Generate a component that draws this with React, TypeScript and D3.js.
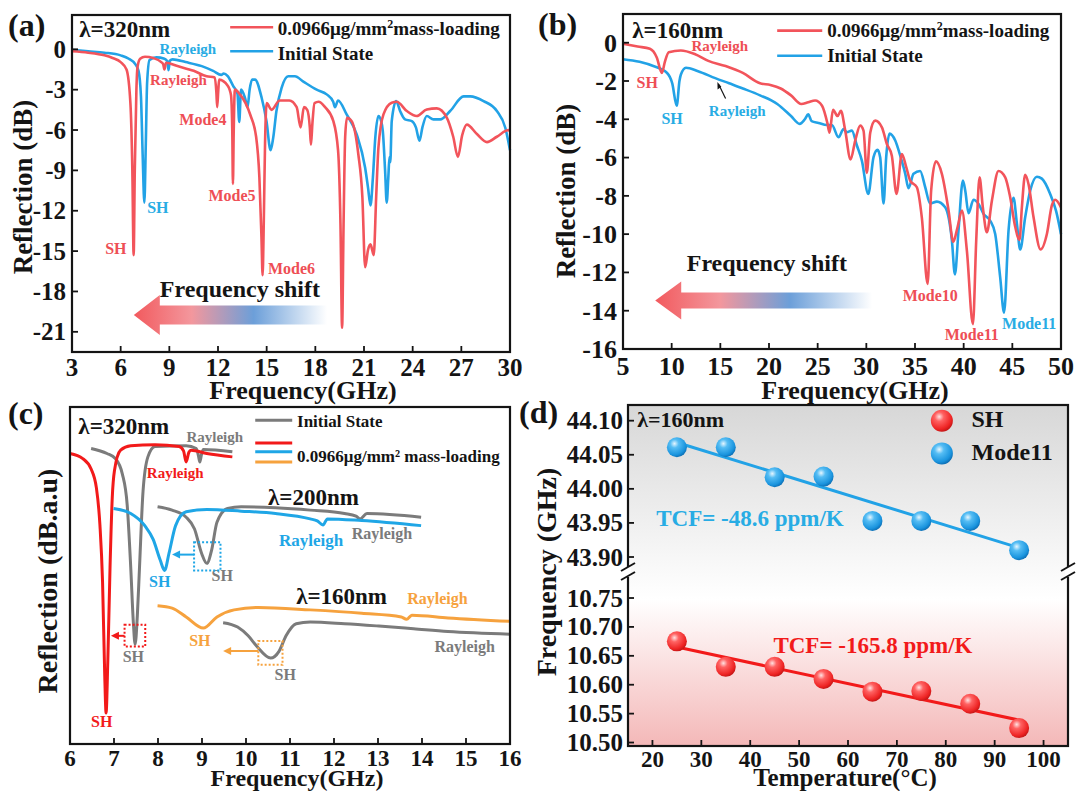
import React from 'react';
import * as d3 from 'd3';

type Pt = [number, number];

const FONT = '"Liberation Serif", "Times New Roman", serif';
const INK = '#141414';
const RED = '#f2545b';
const BLUE = '#22a2e6';
const RED_TXT = '#ee4e55';
const BLUE_TXT = '#28ace4';
const C_RED = '#f21a1a';
const C_BLUE = '#1fa6e6';
const C_ORANGE = '#f6a23e';
const C_GRAY = '#7b7b7b';

// ---- panel (a): lambda = 320nm, reflection (dB)
const aXTicks = [3, 6, 9, 12, 15, 18, 21, 24, 27, 30];
const aYTicks = [0, -3, -6, -9, -12, -15, -18, -21];
const aLoaded: Pt[] = [
  [3, -0.15], [4, -0.25], [5, -0.45], [5.5, -0.65], [6.0, -0.95], [6.36, -1.5], [6.6, -4], [6.72, -9],
  [6.8, -15.3], [6.87, -9], [6.97, -3], [7.04, -1.3], [7.2, -0.7], [7.5, -0.55], [8.0, -0.65], [8.5, -0.95],
  [8.62, -1.1], [8.7, -1.5], [8.8, -1.0], [9.5, -1.25], [10.5, -1.6], [11.3, -2.0], [11.8, -2.1], [11.9, -3.2],
  [11.95, -4.3], [12.02, -3.0], [12.07, -2.25], [12.6, -2.7], [12.8, -3.4], [12.88, -6], [12.92, -10.0],
  [12.97, -6], [13.04, -3.0], [13.35, -3.35], [13.7, -4.0], [14.0, -4.9], [14.35, -6.5], [14.55, -9.5],
  [14.68, -14], [14.75, -16.8], [14.82, -13], [14.9, -7], [15.0, -4.0], [15.3, -4.5], [15.8, -3.8],
  [16.4, -3.8], [16.85, -4.3], [17.09, -5.8], [17.3, -4.3], [17.5, -4.5], [17.66, -5.8], [17.73, -7.1],
  [17.82, -5.5], [17.95, -4.0], [18.2, -3.9], [18.6, -4.3], [19.1, -5.3], [19.4, -7.5], [19.55, -13],
  [19.65, -20.7], [19.74, -13], [19.84, -6.5], [19.95, -5.1], [20.24, -5.35], [20.65, -7.8], [20.9, -11],
  [21.07, -16.2], [21.25, -14.9], [21.4, -14.5], [21.6, -15.3], [21.75, -11], [21.89, -7.3], [22.2, -4.84],
  [22.71, -3.97], [23.02, -3.9], [23.64, -4.59], [24.25, -4.96], [24.87, -4.47], [25.49, -4.39],
  [26.11, -5.09], [26.5, -6.5], [26.79, -8.0], [27.05, -6.4], [27.34, -5.6], [27.96, -6.3], [28.58, -6.9],
  [29.19, -6.5], [29.91, -6.0], [30, -6.1],
];
const aInitial: Pt[] = [
  [3, -0.05], [4, -0.15], [5, -0.25], [6, -0.45], [6.5, -0.7], [6.9, -1.1], [7.1, -1.6], [7.25, -3.5],
  [7.36, -8], [7.46, -11.4], [7.55, -7], [7.63, -2.5], [7.78, -0.8], [8.2, -0.6], [8.7, -0.7], [8.88, -0.9],
  [8.95, -1.55], [9.03, -0.85], [9.2, -0.75], [10, -0.95], [11.0, -1.25], [11.7, -1.6], [12.2, -1.9],
  [12.35, -1.8], [12.6, -2.0], [12.94, -2.73], [13.2, -3.3], [13.31, -5.4], [13.42, -3.0], [13.66, -3.6],
  [13.82, -4.3], [13.95, -3.0], [14.1, -2.25], [14.28, -2.25], [14.69, -3.6], [14.99, -5.34], [15.24, -7.5],
  [15.4, -6.6], [15.6, -4.6], [15.92, -2.86], [16.33, -2.0], [16.74, -2.0], [17.26, -2.4], [18.08, -3.0],
  [18.7, -3.35], [19.1, -3.9], [19.21, -4.3], [19.4, -3.8], [19.93, -4.84], [20.55, -6.33], [21.07, -8.81],
  [21.25, -10.3], [21.4, -11.6], [21.55, -9.5], [21.7, -6.5], [21.89, -4.96], [22.05, -5.3], [22.16, -6.08],
  [22.3, -9], [22.4, -11.4], [22.5, -9.5], [22.57, -8.0], [22.62, -8.4], [22.71, -5.34], [22.98, -3.85],
  [23.23, -4.6], [23.53, -5.21], [23.95, -5.34], [24.2, -5.8], [24.42, -6.8], [24.6, -5.8], [24.87, -4.96],
  [25.28, -5.21], [25.7, -5.21], [26.31, -4.59], [27.14, -3.5], [27.55, -3.5], [28.37, -3.85],
  [29.19, -4.59], [29.71, -5.83], [30, -7.5],
];

// ---- panel (b): lambda = 160nm, reflection (dB)
const bXTicks = [5, 10, 15, 20, 25, 30, 35, 40, 45, 50];
const bYTicks = [0, -2, -4, -6, -8, -10, -12, -14, -16];
const bLoaded: Pt[] = [
  [5, -0.05], [6.5, -0.2], [7.76, -0.32], [8.47, -0.77], [9.0, -1.58], [9.3, -1.0], [9.7, -0.5],
  [10.94, -0.41], [12.36, -0.59], [13.77, -0.95], [15.54, -1.22], [17.31, -1.58], [19.08, -2.12],
  [20.14, -2.21], [21.2, -2.39], [22.26, -2.75], [23.32, -3.2], [24.03, -3.11], [24.74, -3.02],
  [25.45, -3.29], [26.0, -4.2], [26.22, -4.7], [26.58, -3.5], [27.04, -3.83], [27.39, -3.56], [27.83, -4.59],
  [28.38, -6.1], [28.86, -5.11], [29.37, -4.33], [29.71, -4.59], [30.05, -6.8], [30.4, -4.7], [30.91, -4.07],
  [31.6, -4.42], [32.11, -5.29], [32.62, -5.9], [33.1, -7.9], [33.65, -5.81], [34.1, -6.5], [34.5, -7.2],
  [35.19, -7.55], [35.7, -9.12], [36.3, -12.6], [36.66, -7.72], [37.15, -6.2], [37.76, -6.85],
  [38.45, -8.77], [38.93, -10.4], [39.37, -9.64], [39.82, -8.77], [40.33, -10.86], [40.95, -14.7],
  [41.29, -10.33], [41.63, -7.03], [41.97, -8.6], [42.38, -9.9], [42.9, -8.25], [43.58, -6.7],
  [44.27, -7.03], [44.78, -8.07], [45.29, -9.6], [45.74, -10.3], [45.98, -8.6], [46.32, -6.9],
  [46.66, -7.38], [47.18, -9.12], [47.9, -10.8], [48.55, -9.99], [49.06, -8.5], [49.4, -8.2], [50, -8.6],
];
const bInitial: Pt[] = [
  [5, -0.86], [6.7, -1.0], [8.11, -1.22], [9.53, -1.58], [10.06, -2.12], [10.52, -3.29], [10.8, -2.0],
  [10.94, -1.67], [11.47, -1.31], [12.71, -1.49], [14.48, -1.85], [15.9, -2.12], [17.31, -2.39],
  [19.08, -2.75], [20.85, -3.2], [22.26, -3.83], [23.15, -4.24], [23.68, -4.0], [24.03, -3.74],
  [24.38, -4.1], [25.09, -4.19], [25.94, -4.3], [26.46, -4.3], [27.14, -4.94], [27.66, -4.51], [28.0, -4.68],
  [28.51, -4.59], [29.03, -5.37], [29.54, -6.16], [30.2, -7.9], [30.74, -5.98], [31.15, -5.6],
  [31.42, -5.98], [31.77, -8.4], [32.04, -5.98], [32.38, -4.75], [32.97, -5.11], [33.48, -5.9], [34.0, -6.85],
  [34.33, -7.6], [34.85, -6.85], [35.53, -6.7], [36.05, -7.55], [36.56, -8.4], [37.25, -8.3], [38.1, -8.6],
  [38.79, -10.33], [39.1, -12.1], [39.47, -9.81], [39.92, -7.2], [40.16, -7.72], [40.5, -8.9], [41.01, -8.2],
  [41.53, -8.42], [42.04, -8.94], [42.73, -9.3], [43.24, -9.99], [43.75, -12.25], [44.15, -14.1],
  [44.61, -9.81], [45.12, -8.1], [45.47, -9.46], [45.81, -10.8], [46.32, -9.12], [46.84, -7.72],
  [47.52, -7.0], [48.03, -7.1], [48.89, -7.9], [49.5, -8.8], [50, -10.0],
];

// ---- panel (c): SH resonances, stacked (arbitrary units)
const cXTicks = [6, 7, 8, 9, 10, 11, 12, 13, 14, 15, 16];
const c320Loaded: Pt[] = [
  [6.0, 8.62], [6.29, 8.47], [6.48, 8.16], [6.6, 7.6], [6.68, 6.5], [6.74, 4.8], [6.79, 2.0], [6.82, 0.92],
  [6.86, 2.5], [6.91, 5.25], [6.96, 7.3], [7.01, 8.11], [7.15, 8.72], [7.38, 8.85], [7.93, 8.88],
  [8.48, 8.83], [8.58, 8.7], [8.64, 8.37], [8.7, 8.65], [8.75, 8.72], [9.11, 8.62], [9.69, 8.52],
];
const c320Initial: Pt[] = [
  [6.48, 8.77], [6.84, 8.62], [7.03, 8.47], [7.19, 8.01], [7.3, 7.09], [7.38, 5.25], [7.44, 3.6],
  [7.48, 2.96], [7.53, 3.8], [7.58, 5.25], [7.66, 7.5], [7.77, 8.52], [7.93, 8.83], [8.64, 8.85],
  [8.87, 8.77], [8.92, 8.55], [8.95, 8.37], [8.99, 8.6], [9.03, 8.74], [9.69, 8.67],
];
const c200Loaded: Pt[] = [
  [6.99, 6.99], [7.38, 6.84], [7.7, 6.48], [7.89, 6.07], [8.05, 5.46], [8.15, 5.15], [8.25, 5.66],
  [8.4, 6.48], [8.64, 6.89], [9.11, 6.96], [9.89, 6.91], [10.67, 6.84], [11.46, 6.68], [11.62, 6.62],
  [11.75, 6.5], [11.85, 6.68], [12.63, 6.63], [13.98, 6.48],
];
const c200Initial: Pt[] = [
  [7.99, 7.04], [8.32, 6.94], [8.64, 6.73], [8.83, 6.38], [8.99, 5.66], [9.11, 5.36], [9.22, 5.76],
  [9.34, 6.58], [9.58, 6.99], [9.89, 7.04], [10.67, 7.01], [11.46, 6.94], [12.24, 6.84], [12.5, 6.76],
  [12.59, 6.68], [12.75, 6.84], [13.98, 6.73],
];
const c160Loaded: Pt[] = [
  [7.99, 4.1], [8.32, 4.03], [8.64, 3.77], [9.03, 3.44], [9.34, 3.77], [9.73, 3.98], [10.28, 4.05],
  [11.46, 3.98], [12.63, 3.88], [13.53, 3.77], [13.65, 3.7], [13.77, 3.82], [14.59, 3.74], [16.0, 3.64],
];
const c160Initial: Pt[] = [
  [9.48, 3.6], [9.81, 3.47], [10.05, 3.21], [10.24, 2.91], [10.56, 2.55], [10.75, 2.75], [10.91, 3.21],
  [11.14, 3.57], [11.46, 3.62], [12.24, 3.57], [13.02, 3.5], [13.81, 3.42], [14.59, 3.34], [16.0, 3.26],
];

// ---- panel (d): temperature drift
const dXTicks = [20, 30, 40, 50, 60, 70, 80, 90, 100];
const dUpperTicks = [43.9, 43.95, 44.0, 44.05, 44.1];
const dLowerTicks = [10.5, 10.55, 10.6, 10.65, 10.7, 10.75];
const dTemps = [25, 35, 45, 55, 65, 75, 85, 95];
const dMode11 = [44.061, 44.061, 44.017, 44.018, 43.953, 43.953, 43.953, 43.91];
const dSH = [10.675, 10.631, 10.631, 10.61, 10.588, 10.589, 10.567, 10.525];

// scales (pixel ranges from the figure layout)
const axA = d3.scaleLinear().domain([3, 30]).range([72, 510]);
const ayA = d3.scaleLinear().domain([-22.5, 2.55]).range([352, 15]);
const axB = d3.scaleLinear().domain([5, 50]).range([623, 1061]);
const ayB = d3.scaleLinear().domain([-16, 1.5]).range([349, 14]);
const axC = d3.scaleLinear().domain([6, 16]).range([70, 510]);
const ayC = d3.scaleLinear().domain([0, 10]).range([744, 407]);
const axD = d3.scaleLinear().domain([15, 105]).range([628, 1068]);
const ayDU = d3.scaleLinear().domain([43.878, 44.123]).range([572, 405]);
const ayDL = d3.scaleLinear().domain([10.494, 10.795]).range([746, 572]);

const curve = (x: d3.ScaleLinear<number, number>, y: d3.ScaleLinear<number, number>) =>
  d3.line<Pt>().x(d => x(d[0])).y(d => y(d[1])).curve(d3.curveMonotoneX);

function fit(xs: number[], ys: number[]) {
  const mx = d3.mean(xs)!, my = d3.mean(ys)!;
  const sxy = d3.sum(xs, (x, i) => (x - mx) * (ys[i] - my));
  const sxx = d3.sum(xs, x => (x - mx) * (x - mx));
  const k = sxy / sxx;
  return (x: number) => my + k * (x - mx);
}

const Txt = (p: any) => (
  <text fontFamily={FONT} fontWeight="bold" fill={p.fill || INK} fontSize={p.size} x={p.x} y={p.y}
    textAnchor={p.anchor || 'start'} transform={p.transform}>{p.children}</text>
);

function Frame({ x, y, xTicks, yTicks, xFmt, yFmt, size, xOff }: any) {
  const [x0, x1] = x.range();
  const [yb, yt] = y.range();
  return (
    <g>
      <rect x={x0} y={yt} width={x1 - x0} height={yb - yt} fill="none" stroke={INK} strokeWidth={2.2} />
      {xTicks.map((t: number) => (
        <g key={'x' + t}>
          <line x1={x(t)} x2={x(t)} y1={yb} y2={yb - 6} stroke={INK} strokeWidth={1.8} />
          <Txt x={x(t)} y={yb + xOff} size={size} anchor="middle">{xFmt(t)}</Txt>
        </g>
      ))}
      {(yTicks || []).map((t: number) => (
        <g key={'y' + t}>
          <line x1={x0} x2={x0 + 6} y1={y(t)} y2={y(t)} stroke={INK} strokeWidth={1.8} />
          <Txt x={x0 - 6} y={y(t) + size * 0.34} size={size} anchor="end">{yFmt(t)}</Txt>
        </g>
      ))}
    </g>
  );
}

function ShiftArrow({ x0, x1, yc, body, head, headLen }: any) {
  const pts = [
    [x0, yc], [x0 + headLen, yc - head], [x0 + headLen, yc - body], [x1, yc - body],
    [x1, yc + body], [x0 + headLen, yc + body], [x0 + headLen, yc + head],
  ];
  return <polygon points={pts.map(p => p.join(',')).join(' ')} fill="url(#shiftGrad)" />;
}

function SmallArrow({ x1, x2, y, color }: any) {
  // horizontal arrow pointing left, head at x2
  return (
    <g>
      <line x1={x1} x2={x2 + 6} y1={y} y2={y} stroke={color} strokeWidth={2} />
      <polygon points={`${x2},${y} ${x2 + 8},${y - 4} ${x2 + 8},${y + 4}`} fill={color} />
    </g>
  );
}

function Sphere({ cx, cy, r, id }: any) {
  return <circle cx={cx} cy={cy} r={r} fill={`url(#${id})`} />;
}

export default function App() {
  const lineA = curve(axA, ayA);
  const lineB = curve(axB, ayB);
  const lineC = curve(axC, ayC);
  const fitBlue = fit(dTemps, dMode11);
  const fitRed = fit(dTemps, dSH);
  const fmt2 = d3.format('.2f');
  const dx0 = axD.range()[0], dx1 = axD.range()[1];
  const brk = 572;

  return (
    <svg width={1076} height={791} viewBox="0 0 1076 791"
      style={{ position: 'absolute', left: 0, top: 0, background: '#fff' }}>
      <defs>
        <linearGradient id="shiftGrad" x1="0" x2="1" y1="0" y2="0">
          <stop offset="0" stopColor="#f25a5e" />
          <stop offset="0.3" stopColor="#f3979d" />
          <stop offset="0.62" stopColor="#6c9fd9" />
          <stop offset="1" stopColor="#ffffff" />
        </linearGradient>
        <linearGradient id="dBg" x1="0" x2="0" y1="0" y2="1">
          <stop offset="0" stopColor="#d7d7d7" />
          <stop offset="0.45" stopColor="#f7f7f7" />
          <stop offset="0.57" stopColor="#ffffff" />
          <stop offset="1" stopColor="#f4b8b8" />
        </linearGradient>
        <radialGradient id="sphRed" cx="0.38" cy="0.32" r="0.7">
          <stop offset="0" stopColor="#ffe2e2" />
          <stop offset="0.3" stopColor="#ff6262" />
          <stop offset="0.8" stopColor="#ee2424" />
          <stop offset="1" stopColor="#c41616" />
        </radialGradient>
        <radialGradient id="sphBlue" cx="0.38" cy="0.32" r="0.7">
          <stop offset="0" stopColor="#e6f6ff" />
          <stop offset="0.3" stopColor="#55bdf4" />
          <stop offset="0.8" stopColor="#1a94de" />
          <stop offset="1" stopColor="#0d6fb5" />
        </radialGradient>
      </defs>

      {/* ================= (a) ================= */}
      <path d={lineA(aInitial)!} fill="none" stroke={BLUE} strokeWidth={2.6} />
      <path d={lineA(aLoaded)!} fill="none" stroke={RED} strokeWidth={2.6} />
      <Frame x={axA} y={ayA} xTicks={aXTicks} yTicks={aYTicks} xFmt={String} yFmt={String} size={25} xOff={24} />
      <Txt x={8} y={36} size={32}>(a)</Txt>
      <Txt x={axA(3.45)} y={ayA(0.95)} size={23}>λ=320nm</Txt>
      <line x1={axA(12.75)} x2={axA(15.4)} y1={ayA(1.64)} y2={ayA(1.64)} stroke={RED} strokeWidth={2.6} />
      <line x1={axA(12.75)} x2={axA(15.4)} y1={ayA(-0.15)} y2={ayA(-0.15)} stroke={BLUE} strokeWidth={2.6} />
      <Txt x={axA(15.68)} y={ayA(1.04)} size={19}>0.0966μg/mm<tspan dy={-7} fontSize={12}>2</tspan><tspan dy={7}>mass-loading</tspan></Txt>
      <Txt x={axA(15.68)} y={ayA(-0.82)} size={19}>Initial State</Txt>
      <Txt x={axA(10.14)} y={ayA(-0.37)} size={15} fill={BLUE_TXT} anchor="middle">Rayleigh</Txt>
      <Txt x={axA(9.56)} y={ayA(-2.68)} size={15} fill={RED_TXT} anchor="middle">Rayleigh</Txt>
      <Txt x={axA(11.07)} y={ayA(-5.65)} size={16} fill={RED_TXT} anchor="middle">Mode4</Txt>
      <Txt x={axA(12.86)} y={ayA(-11.3)} size={16} fill={RED_TXT} anchor="middle">Mode5</Txt>
      <Txt x={axA(16.53)} y={ayA(-16.67)} size={16} fill={RED_TXT} anchor="middle">Mode6</Txt>
      <Txt x={axA(5.7)} y={ayA(-15.18)} size={16} fill={RED_TXT} anchor="middle">SH</Txt>
      <Txt x={axA(8.29)} y={ayA(-12.2)} size={16} fill={BLUE_TXT} anchor="middle">SH</Txt>
      <Txt x={axA(13.35)} y={ayA(-18.38)} size={24} anchor="middle">Frequency shift</Txt>
      <ShiftArrow x0={axA(6.81)} x1={axA(18.72)} yc={ayA(-19.75)} body={9.5} head={20} headLen={26} />
      <Txt x={32} y={187} size={27} anchor="middle" transform="rotate(-90 32 187)">Reflection (dB)</Txt>
      <Txt x={303} y={399} size={26} anchor="middle">Frequency(GHz)</Txt>

      {/* ================= (b) ================= */}
      <path d={lineB(bInitial)!} fill="none" stroke={BLUE} strokeWidth={2.6} />
      <path d={lineB(bLoaded)!} fill="none" stroke={RED} strokeWidth={2.6} />
      <Frame x={axB} y={ayB} xTicks={bXTicks} yTicks={bYTicks} xFmt={String} yFmt={String} size={26} xOff={26} />
      <Txt x={538} y={35} size={32}>(b)</Txt>
      <Txt x={axB(5.95)} y={ayB(0.26)} size={23}>λ=160nm</Txt>
      <line x1={axB(20.84)} x2={axB(25.47)} y1={ayB(0.63)} y2={ayB(0.63)} stroke={RED} strokeWidth={2.6} />
      <line x1={axB(20.84)} x2={axB(25.47)} y1={ayB(-0.68)} y2={ayB(-0.68)} stroke={BLUE} strokeWidth={2.6} />
      <Txt x={axB(25.98)} y={ayB(0.31)} size={19}>0.0966μg/mm<tspan dy={-7} fontSize={12}>2</tspan><tspan dy={7}>mass-loading</tspan></Txt>
      <Txt x={axB(25.98)} y={ayB(-0.99)} size={19}>Initial State</Txt>
      <Txt x={axB(14.94)} y={ayB(-0.42)} size={15} fill={RED_TXT} anchor="middle">Rayleigh</Txt>
      <Txt x={axB(7.49)} y={ayB(-2.35)} size={16} fill={RED_TXT} anchor="middle">SH</Txt>
      <Txt x={axB(10.05)} y={ayB(-4.23)} size={16} fill={BLUE_TXT} anchor="middle">SH</Txt>
      <Txt x={axB(16.73)} y={ayB(-3.81)} size={15} fill={BLUE_TXT} anchor="middle">Rayleigh</Txt>
      <line x1={axB(15.54)} y1={ayB(-2.92)} x2={axB(14.85)} y2={ayB(-2.2)} stroke={INK} strokeWidth={1.2} />
      <polygon points={`${axB(14.7)},${ayB(-2.05)} ${axB(14.72)},${ayB(-2.45)} ${axB(15.1)},${ayB(-2.3)}`} fill={INK} />
      <Txt x={axB(19.78)} y={ayB(-11.95)} size={24} anchor="middle">Frequency shift</Txt>
      <ShiftArrow x0={axB(8.31)} x1={axB(30.6)} yc={ayB(-13.47)} body={8} head={19} headLen={26} />
      <Txt x={axB(36.56)} y={ayB(-13.47)} size={16} fill={RED_TXT} anchor="middle">Mode10</Txt>
      <Txt x={axB(40.83)} y={ayB(-15.55)} size={16} fill={RED_TXT} anchor="middle">Mode11</Txt>
      <Txt x={axB(46.73)} y={ayB(-14.98)} size={16} fill={BLUE_TXT} anchor="middle">Mode11</Txt>
      <Txt x={575} y={191} size={27} anchor="middle" transform="rotate(-90 575 191)">Reflection (dB)</Txt>
      <Txt x={855} y={399} size={26} anchor="middle">Frequency(GHz)</Txt>

      {/* ================= (c) ================= */}
      <path d={lineC(c320Initial)!} fill="none" stroke={C_GRAY} strokeWidth={3} />
      <path d={lineC(c320Loaded)!} fill="none" stroke={C_RED} strokeWidth={3} />
      <path d={lineC(c200Initial)!} fill="none" stroke={C_GRAY} strokeWidth={3} />
      <path d={lineC(c200Loaded)!} fill="none" stroke={C_BLUE} strokeWidth={3} />
      <path d={lineC(c160Loaded)!} fill="none" stroke={C_ORANGE} strokeWidth={3} />
      <path d={lineC(c160Initial)!} fill="none" stroke={C_GRAY} strokeWidth={3} />
      <Frame x={axC} y={ayC} xTicks={cXTicks} yTicks={null} xFmt={String} yFmt={String} size={23} xOff={22} />
      <Txt x={8} y={424} size={32}>(c)</Txt>
      <Txt x={axC(6.19)} y={ayC(9.2)} size={23}>λ=320nm</Txt>
      <Txt x={axC(10.5)} y={ayC(7.1)} size={23}>λ=200nm</Txt>
      <Txt x={axC(11.14)} y={ayC(4.16)} size={23}>λ=160nm</Txt>
      <line x1={axC(10.21)} x2={axC(11.05)} y1={ayC(9.61)} y2={ayC(9.61)} stroke={C_GRAY} strokeWidth={3} />
      <Txt x={axC(11.16)} y={ayC(9.41)} size={17}>Initial State</Txt>
      <line x1={axC(10.21)} x2={axC(11.05)} y1={ayC(8.93)} y2={ayC(8.93)} stroke={C_RED} strokeWidth={3} />
      <line x1={axC(10.21)} x2={axC(11.05)} y1={ayC(8.67)} y2={ayC(8.67)} stroke={C_BLUE} strokeWidth={3} />
      <line x1={axC(10.21)} x2={axC(11.05)} y1={ayC(8.37)} y2={ayC(8.37)} stroke={C_ORANGE} strokeWidth={3} />
      <Txt x={axC(11.16)} y={ayC(8.36)} size={17}>0.0966μg/mm² mass-loading</Txt>
      <Txt x={axC(9.29)} y={ayC(8.96)} size={15} fill={C_GRAY} anchor="middle">Rayleigh</Txt>
      <Txt x={axC(8.39)} y={ayC(7.9)} size={15} fill={C_RED} anchor="middle">Rayleigh</Txt>
      <Txt x={axC(11.48)} y={ayC(5.88)} size={17} fill={C_BLUE} anchor="middle">Rayleigh</Txt>
      <Txt x={axC(13.09)} y={ayC(6.09)} size={16} fill={C_GRAY} anchor="middle">Rayleigh</Txt>
      <Txt x={axC(14.35)} y={ayC(4.16)} size={16} fill={C_ORANGE} anchor="middle">Rayleigh</Txt>
      <Txt x={axC(14.97)} y={ayC(2.74)} size={16} fill={C_GRAY} anchor="middle">Rayleigh</Txt>
      <Txt x={axC(8.04)} y={ayC(4.67)} size={16} fill={C_BLUE} anchor="middle">SH</Txt>
      <Txt x={axC(9.46)} y={ayC(4.84)} size={16} fill={C_GRAY} anchor="middle">SH</Txt>
      <Txt x={axC(8.95)} y={ayC(2.9)} size={16} fill={C_ORANGE} anchor="middle">SH</Txt>
      <Txt x={axC(10.89)} y={ayC(1.91)} size={16} fill={C_GRAY} anchor="middle">SH</Txt>
      <Txt x={axC(7.44)} y={ayC(2.42)} size={16} fill={C_GRAY} anchor="middle">SH</Txt>
      <Txt x={axC(6.72)} y={ayC(0.49)} size={16} fill={C_RED} anchor="middle">SH</Txt>
      <rect x={axC(8.82)} y={ayC(5.99)} width={axC(9.42) - axC(8.82)} height={ayC(5.15) - ayC(5.99)}
        fill="none" stroke={C_BLUE} strokeWidth={2} strokeDasharray="2,2" />
      <SmallArrow x1={axC(8.82)} x2={axC(8.32)} y={ayC(5.62)} color={C_BLUE} />
      <rect x={axC(10.28)} y={ayC(3.06)} width={axC(10.83) - axC(10.28)} height={ayC(2.35) - ayC(3.06)}
        fill="none" stroke={C_ORANGE} strokeWidth={2} strokeDasharray="2,2" />
      <SmallArrow x1={axC(10.28)} x2={axC(9.48)} y={ayC(2.76)} color={C_ORANGE} />
      <rect x={axC(7.24)} y={ayC(3.54)} width={axC(7.71) - axC(7.24)} height={ayC(2.89) - ayC(3.54)}
        fill="none" stroke={C_RED} strokeWidth={2} strokeDasharray="2,2" />
      <SmallArrow x1={axC(7.24)} x2={axC(6.93)} y={ayC(3.21)} color={C_RED} />
      <Txt x={57} y={581} size={28} anchor="middle" transform="rotate(-90 57 581)">Reflection (dB.a.u)</Txt>
      <Txt x={297} y={786} size={24} anchor="middle">Frequency(GHz)</Txt>

      {/* ================= (d) ================= */}
      <rect x={dx0} y={405} width={dx1 - dx0} height={341} fill="url(#dBg)" />
      <line x1={axD(25)} x2={axD(95)} y1={ayDU(fitBlue(25))} y2={ayDU(fitBlue(95))} stroke={BLUE} strokeWidth={3} />
      <line x1={axD(25)} x2={axD(95)} y1={ayDL(fitRed(25))} y2={ayDL(fitRed(95))} stroke={C_RED} strokeWidth={3} />
      {dTemps.map((t, i) => <Sphere key={'b' + t} cx={axD(t)} cy={ayDU(dMode11[i])} r={10} id="sphBlue" />)}
      {dTemps.map((t, i) => <Sphere key={'r' + t} cx={axD(t)} cy={ayDL(dSH[i])} r={10} id="sphRed" />)}
      <rect x={dx0} y={405} width={dx1 - dx0} height={341} fill="none" stroke={INK} strokeWidth={2.2} />
      {dXTicks.map(t => (
        <g key={'dx' + t}>
          <line x1={axD(t)} x2={axD(t)} y1={746} y2={740} stroke={INK} strokeWidth={1.8} />
          <Txt x={axD(t)} y={767} size={23} anchor="middle">{t}</Txt>
        </g>
      ))}
      {dUpperTicks.map(t => (
        <g key={'du' + t}>
          <line x1={dx0} x2={dx0 + 6} y1={ayDU(t)} y2={ayDU(t)} stroke={INK} strokeWidth={1.8} />
          <Txt x={dx0 - 5} y={ayDU(t) + 8.5} size={25} anchor="end">{fmt2(t)}</Txt>
        </g>
      ))}
      {dLowerTicks.map(t => (
        <g key={'dl' + t}>
          <line x1={dx0} x2={dx0 + 6} y1={ayDL(t)} y2={ayDL(t)} stroke={INK} strokeWidth={1.8} />
          <Txt x={dx0 - 5} y={ayDL(t) + 8.5} size={25} anchor="end">{fmt2(t)}</Txt>
        </g>
      ))}
      {[dx0, dx1].map(x => (
        <g key={'br' + x}>
          <rect x={x - 3} y={brk - 5} width={6} height={10} fill="#fff" />
          <line x1={x - 7} y1={brk - 1} x2={x + 7} y2={brk - 9} stroke={INK} strokeWidth={2} />
          <line x1={x - 7} y1={brk + 8} x2={x + 7} y2={brk} stroke={INK} strokeWidth={2} />
        </g>
      ))}
      <Txt x={519} y={423} size={32}>(d)</Txt>
      <Txt x={axD(16.9)} y={ayDU(44.09)} size={22}>λ=160nm</Txt>
      <Sphere cx={axD(79.2)} cy={ayDU(44.1)} r={11} id="sphRed" />
      <Sphere cx={axD(79.2)} cy={ayDU(44.052)} r={11} id="sphBlue" />
      <Txt x={axD(85.26)} y={ayDU(44.09)} size={24}>SH</Txt>
      <Txt x={axD(85.26)} y={ayDU(44.042)} size={24}>Mode11</Txt>
      <Txt x={axD(20.77)} y={ayDU(43.946)} size={23} fill={BLUE_TXT}>TCF= -48.6 ppm/K</Txt>
      <Txt x={axD(44.74)} y={ayDL(10.655)} size={23} fill={C_RED}>TCF= -165.8 ppm/K</Txt>
      <Txt x={556} y={572} size={28} anchor="middle" transform="rotate(-90 556 572)">Frequency (GHz)</Txt>
      <Txt x={845} y={786} size={25} anchor="middle">Temperature(°C)</Txt>
    </svg>
  );
}
